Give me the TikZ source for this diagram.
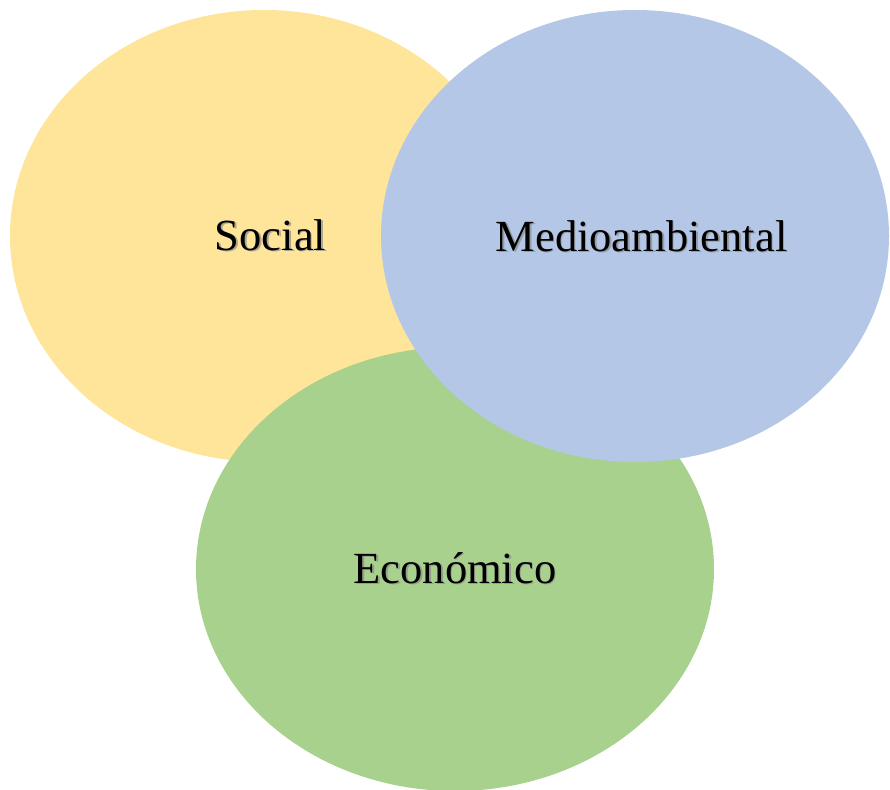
\documentclass[tikz,border=0pt]{standalone}
\usepackage{fontspec}
\setmainfont{Liberation Serif}
\usetikzlibrary{shapes.geometric}
\definecolor{socialfill}{HTML}{FFE599}
\definecolor{envfill}{HTML}{B4C7E7}
\definecolor{ecofill}{HTML}{A9D18E}
\tikzset{
  blob/.style={ellipse, draw=none, inner sep=0pt},
  lbl/.style={font=\fontsize{44.5}{50}\selectfont, anchor=base, inner sep=0pt},
  lblshadow/.style={lbl, text=black!45, opacity=0.7},
}
\begin{document}
\begin{tikzpicture}[x=1pt,y=-1pt]
\useasboundingbox (0,0) rectangle (890,789);
\node[blob, fill=socialfill, minimum width=508pt, minimum height=452pt] (soc) at (264,236) {};
\node[blob, fill=ecofill, minimum width=518pt, minimum height=444pt] (eco) at (455,569) {};
\node[blob, fill=envfill, minimum width=508pt, minimum height=452pt] (env) at (635,236) {};
\node[lblshadow] (socs) at (272,251.5) {Social};
\node[lbl] (socl) at (270.5,250) {Social};
\node[lblshadow] (envs) at (643,252.5) {Medioambiental};
\node[lbl] (envl) at (641.5,251) {Medioambiental};
\node[lblshadow] (ecos) at (456.5,584.5) {Económico};
\node[lbl] (ecol) at (455,583) {Económico};
\end{tikzpicture}
\end{document}
